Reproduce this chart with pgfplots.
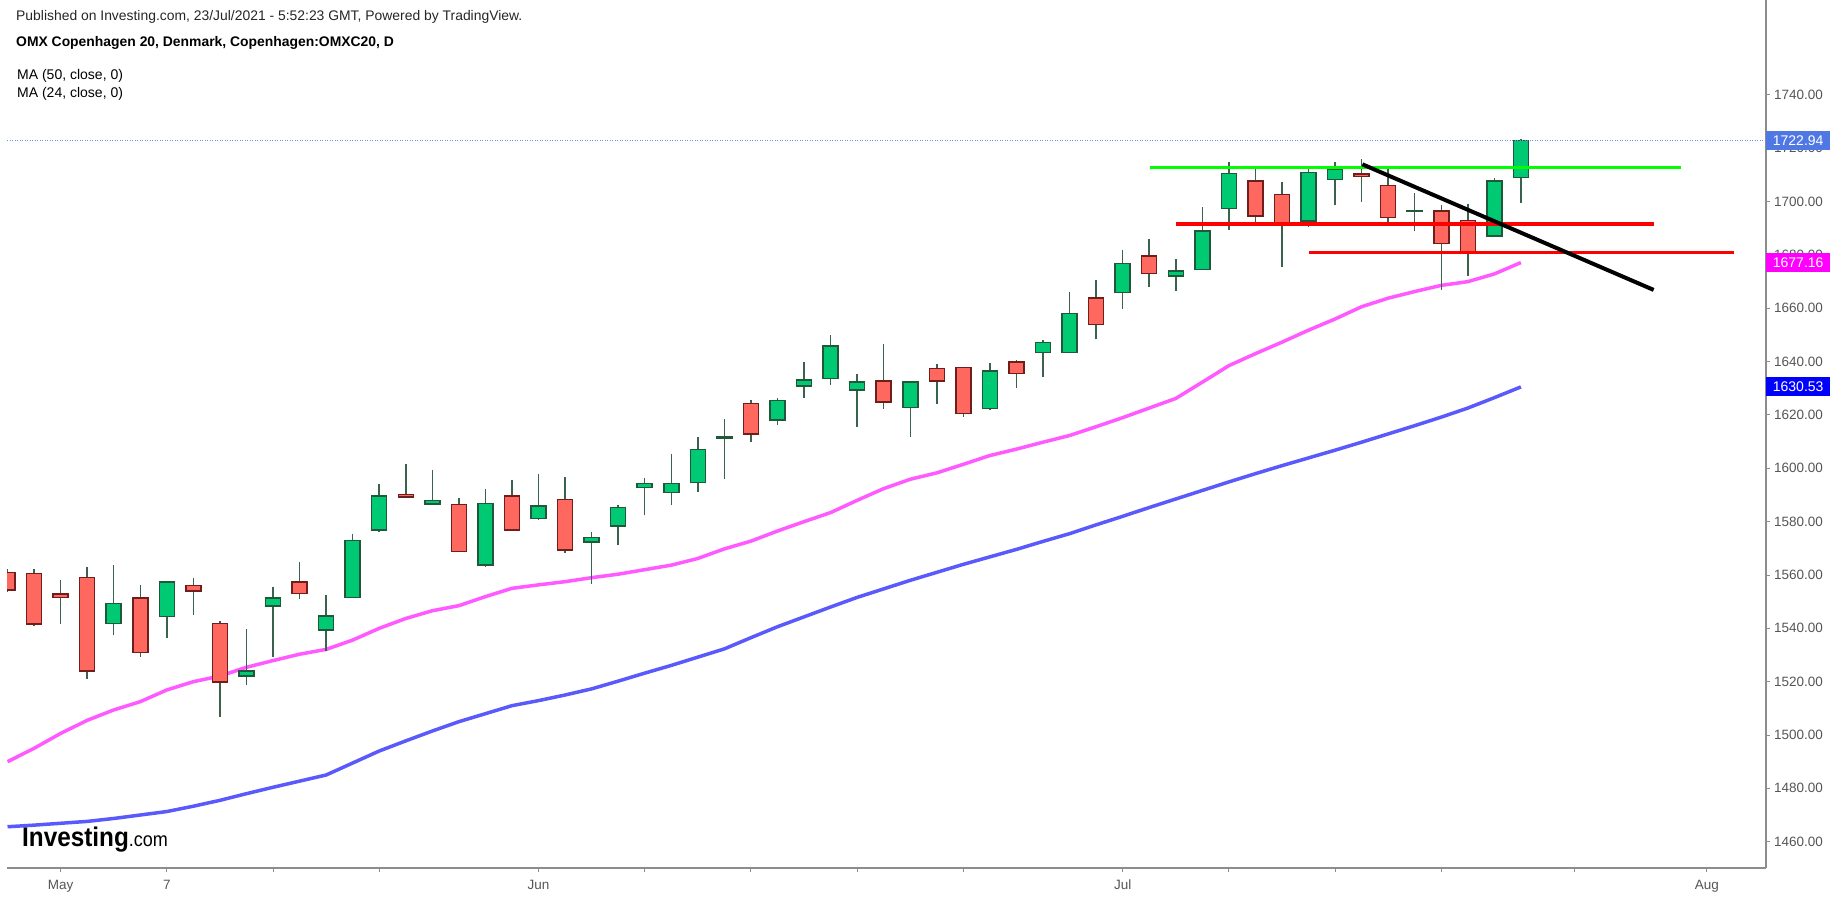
\documentclass[border=0pt]{standalone}
\usepackage{fontspec}
\setmainfont{Liberation Sans}
\usepackage{pgfplots}
\pgfplotsset{compat=1.18}
\usepackage{pgfplotstable}
\definecolor{gbody}{RGB}{0,201,116}
\definecolor{gline}{RGB}{34,88,58}
\definecolor{rbody}{RGB}{255,104,94}
\definecolor{rline}{RGB}{112,30,28}
\definecolor{wick}{RGB}{58,98,76}
\definecolor{maA}{RGB}{90,90,252}
\definecolor{maB}{RGB}{255,90,255}
\definecolor{axisgray}{RGB}{140,140,140}
\definecolor{lblgray}{RGB}{85,85,85}
\definecolor{lastblue}{RGB}{80,120,228}
\definecolor{lastmag}{RGB}{255,0,255}
\definecolor{lastdblue}{RGB}{0,0,255}
\definecolor{dotblue}{RGB}{110,140,235}
\definecolor{tgreen}{RGB}{0,255,0}
\definecolor{tred}{RGB}{255,0,0}

\pgfplotstableread{
k o h l c
4 1541.8 1563.6 1537.4 1549.4
6 1544.5 1557.9 1536.5 1557.3
9 1522.1 1539.8 1518.6 1524.0
10 1548.4 1555.6 1529.4 1551.3
12 1539.4 1552.4 1531.4 1544.6
13 1551.6 1575.2 1551.6 1572.9
14 1576.9 1594.1 1576.3 1589.6
16 1586.7 1599.3 1586.1 1587.9
18 1563.7 1592.3 1563.1 1586.9
20 1581.1 1597.9 1580.8 1585.9
22 1572.3 1576.3 1556.6 1574.1
23 1578.4 1586.1 1571.1 1585.4
24 1592.9 1596.3 1582.4 1594.4
25 1591.0 1605.2 1586.1 1594.4
26 1594.6 1611.9 1591.3 1607.1
27 1611.3 1618.5 1595.9 1611.7
29 1618.1 1626.3 1616.1 1625.4
30 1630.9 1640.0 1626.5 1633.2
31 1633.6 1650.0 1631.1 1645.9
32 1629.4 1635.3 1615.6 1632.4
34 1622.9 1632.6 1611.9 1632.3
37 1622.4 1639.4 1621.9 1636.5
39 1643.5 1648.0 1634.4 1647.2
40 1643.5 1666.3 1643.3 1658.1
42 1666.0 1681.7 1659.8 1676.9
44 1672.1 1678.4 1666.5 1674.0
45 1674.5 1698.1 1674.3 1689.0
46 1697.4 1714.9 1689.4 1710.6
49 1692.8 1713.0 1690.4 1711.0
50 1708.3 1714.9 1698.8 1712.0
53 1696.5 1703.1 1688.9 1696.7
56 1687.1 1708.8 1686.6 1707.8
57 1709.1 1723.4 1699.6 1722.94
}\greenc

\pgfplotstableread{
k o h l c
0 1561.0 1562.3 1553.8 1554.4
1 1560.5 1562.1 1541.0 1541.7
2 1552.8 1558.0 1541.5 1551.6
3 1559.1 1563.1 1521.0 1524.0
5 1551.3 1556.1 1529.4 1531.0
7 1556.0 1558.8 1544.9 1554.0
8 1541.9 1542.8 1506.9 1519.8
11 1557.4 1565.0 1551.0 1553.1
15 1590.2 1601.6 1589.1 1589.2
17 1586.4 1588.8 1568.5 1568.9
19 1589.6 1595.5 1576.6 1576.9
21 1588.4 1596.9 1568.4 1569.4
28 1624.4 1625.5 1610.0 1612.9
33 1632.7 1646.5 1622.3 1624.8
35 1637.4 1639.0 1624.1 1632.8
36 1637.9 1638.1 1619.4 1620.6
38 1639.8 1640.5 1630.2 1635.6
41 1663.8 1670.6 1648.4 1653.9
43 1679.6 1686.0 1667.9 1673.0
47 1707.8 1712.1 1692.1 1694.6
48 1702.6 1707.5 1675.4 1691.9
51 1710.3 1715.9 1699.8 1709.6
52 1706.0 1712.9 1692.5 1694.1
54 1696.5 1698.6 1666.9 1684.3
55 1692.9 1699.1 1672.1 1680.6
}\redc

\pgfplotstableread{
k v
0 1465.6
1 1466.2
2 1466.9
3 1467.6
4 1468.7
5 1470.0
6 1471.3
7 1473.3
8 1475.5
9 1478.0
10 1480.4
11 1482.7
12 1485.0
13 1489.5
14 1494.0
15 1497.8
16 1501.5
17 1505.0
18 1508.0
19 1511.0
20 1512.9
21 1515.0
22 1517.3
23 1520.2
24 1523.2
25 1526.1
26 1529.2
27 1532.3
28 1536.5
29 1540.6
30 1544.3
31 1548.0
32 1551.6
33 1554.8
34 1558.0
35 1561.0
36 1564.0
37 1566.8
38 1569.6
39 1572.6
40 1575.5
41 1578.8
42 1582.0
43 1585.3
44 1588.5
45 1591.7
46 1594.9
47 1598.0
48 1601.0
49 1603.9
50 1606.8
51 1609.8
52 1612.9
53 1616.0
54 1619.2
55 1622.6
56 1626.5
57 1630.53
}\mafifty

\pgfplotstableread{
k v
0 1490.0
1 1495.0
2 1500.6
3 1505.5
4 1509.4
5 1512.5
6 1516.9
7 1520.0
8 1522.1
9 1525.4
10 1527.9
11 1530.3
12 1532.1
13 1535.6
14 1540.0
15 1543.7
16 1546.6
17 1548.5
18 1551.9
19 1555.0
20 1556.3
21 1557.5
22 1559.0
23 1560.3
24 1562.0
25 1563.7
26 1566.2
27 1569.8
28 1572.7
29 1576.5
30 1580.0
31 1583.4
32 1588.0
33 1592.4
34 1595.9
35 1598.3
36 1601.5
37 1604.8
38 1607.2
39 1609.8
40 1612.3
41 1615.6
42 1619.0
43 1622.6
44 1626.2
45 1632.3
46 1638.5
47 1643.0
48 1647.3
49 1651.8
50 1656.0
51 1660.6
52 1663.8
53 1666.3
54 1668.6
55 1670.0
56 1672.9
57 1677.16
}\matwentyfour

\pgfplotsset{
  candle/.style n args={2}{draw=none, mark=none, forget plot,
    error bars/.cd, y dir=plus, y explicit, error mark=none,
    error bar style={draw=#1, line width=#2}},
}

\begin{document}
\begin{tikzpicture}
\useasboundingbox (0,0) rectangle (1837pt,897pt);
\begin{axis}[
  at={(7pt,29pt)}, anchor=south west,
  scale only axis, width=1759pt, height=868pt,
  xmin=-0.02, xmax=66.23, ymin=1450.13, ymax=1775.62,
  axis x line*=bottom, axis y line*=right,
  axis line style={-, draw=axisgray, line width=1.5pt},
  clip mode=individual,
  xtick={2,6,10,14,20,24,28,32,36,42,46,50,54,59,64},
  xticklabels={May,7,,,Jun,,,,,Jul,,,,,Aug},
  ytick={1460,1480,...,1740},
  tick align=outside, major tick length=4pt,
  tick style={draw=axisgray, line width=1pt},
  /pgf/number format/assume math mode=true,
  tick label style={font=\fontsize{13.5}{15}\selectfont, text=lblgray},
  xticklabel style={inner sep=1pt, yshift=-7pt},
  yticklabel style={inner sep=4pt, /pgf/number format/.cd, fixed, fixed zerofill, precision=2, 1000 sep={}},
]
% moving averages
\addplot[maB, line width=3.5pt, mark=none] table[x=k, y=v] {\matwentyfour};
\addplot[maA, line width=3.5pt, mark=none] table[x=k, y=v] {\mafifty};
% wicks
\addplot[candle={wick}{1.5pt}] table[x=k, y=l, y error plus expr=\thisrow{h}-\thisrow{l}] {\greenc};
\addplot[candle={wick}{1.5pt}] table[x=k, y=l, y error plus expr=\thisrow{h}-\thisrow{l}] {\redc};
% green bodies
\addplot[candle={gline}{16.5pt}] table[x=k, y expr=\thisrow{o}-0.28, y error plus expr=\thisrow{c}-\thisrow{o}+0.56] {\greenc};
\addplot[candle={gbody}{13.5pt}] table[x=k, y expr=\thisrow{o}+0.28, y error plus expr={max(\thisrow{c}-\thisrow{o}-0.56,0)}] {\greenc};
% red bodies
\addplot[candle={rline}{16.5pt}] table[x=k, y expr=\thisrow{c}-0.28, y error plus expr=\thisrow{o}-\thisrow{c}+0.56] {\redc};
\addplot[candle={rbody}{13.5pt}] table[x=k, y expr=\thisrow{c}+0.28, y error plus expr={max(\thisrow{o}-\thisrow{c}-0.56,0)}] {\redc};
% last price dotted line
\addplot[dotblue, line width=1pt, dash pattern=on 1pt off 1.5pt, mark=none] coordinates {(-0.02,1722.94) (66.23,1722.94)};
% trend lines
\addplot[tgreen, line width=3.5pt, mark=none] coordinates {(43.03,1712.75) (63.02,1712.75)};
\addplot[tred, line width=3.5pt, mark=none] coordinates {(44.0,1691.6) (62.0,1691.6)};
\addplot[tred, line width=3.5pt, mark=none] coordinates {(49.03,1681.0) (65.02,1681.0)};
\addplot[black, line width=4pt, mark=none] coordinates {(51.03,1714.0) (62.0,1666.9)};
% last value labels
\node[fill=lastblue, text=white, anchor=west, minimum width=64pt, minimum height=19pt, inner sep=0pt, font=\fontsize{14}{15}\selectfont] at (axis cs:66.23,1722.94) {1722.94};
\node[fill=lastmag, text=white, anchor=west, minimum width=64pt, minimum height=19pt, inner sep=0pt, font=\fontsize{14}{15}\selectfont] at (axis cs:66.23,1677.16) {1677.16};
\node[fill=lastdblue, text=white, anchor=west, minimum width=64pt, minimum height=19pt, inner sep=0pt, font=\fontsize{14}{15}\selectfont] at (axis cs:66.23,1630.53) {1630.53};
\end{axis}
% header texts
\node[anchor=west, inner sep=0pt, font=\fontsize{13.9}{15}\selectfont, text=black!85] at (16pt,880pt) {Published on Investing.com, 23/Jul/2021 - 5:52:23 GMT, Powered by TradingView.};
\node[anchor=west, inner sep=0pt, font=\bfseries\fontsize{13.9}{15}\selectfont] at (16pt,854pt) {OMX Copenhagen 20, Denmark, Copenhagen:OMXC20, D};
\node[anchor=west, inner sep=0pt, font=\fontsize{14}{15}\selectfont] at (17pt,821pt) {MA (50, close, 0)};
\node[anchor=west, inner sep=0pt, font=\fontsize{14}{15}\selectfont] at (17pt,803pt) {MA (24, close, 0)};
% logo
\node[anchor=base west, inner sep=0pt, xscale=0.9] at (22pt,50pt) {{\bfseries\fontsize{27}{28}\selectfont Investing}{\fontsize{20}{21}\selectfont .com}};
\end{tikzpicture}
\end{document}
